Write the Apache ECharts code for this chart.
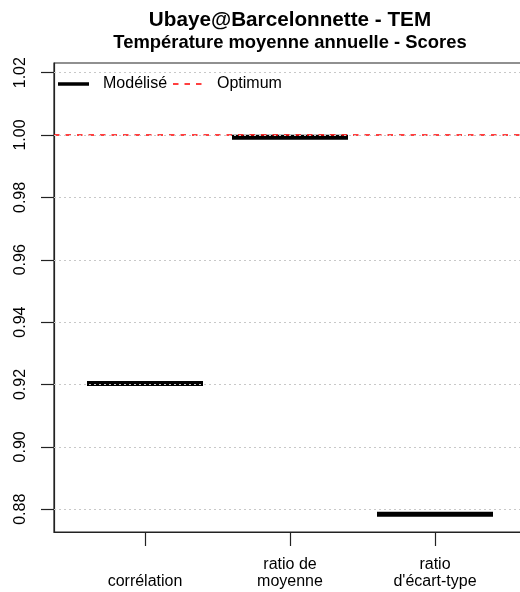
<!DOCTYPE html>
<html>
<head>
<meta charset="utf-8">
<script src="https://cdn.jsdelivr.net/npm/echarts@6/dist/echarts.min.js"></script>
<style>html,body{margin:0;padding:0;background:#fff}#c{width:520px;height:592px}</style>
</head>
<body>
<div id="c"></div>
<script>
var categories = ['corrélation', 'ratio de\nmoyenne', "ratio\nd'écart-type"];
var modelValues = [0.9203, 0.9993, 0.8784];
var optimumValue = 1.0;
var yTicks = [0.88, 0.90, 0.92, 0.94, 0.96, 0.98, 1.00, 1.02];
var xPositions = [1, 2, 3];
var titleText = 'Ubaye@Barcelonnette - TEM';
var subtitleText = 'Température moyenne annuelle - Scores';
var legendNames = ['Modélisé', 'Optimum'];

var FONT = '"Liberation Sans", Arial, sans-serif';
var chart = echarts.init(document.getElementById('c'), null, {renderer: 'canvas'});

var segData = xPositions.map(function (x, i) { return [x, modelValues[i]]; });

var option = {
  animation: false,
  backgroundColor: '#fff',
  grid: {left: 54, top: 63, width: 472, height: 469, outerBoundsMode: 'none', containLabel: false,
    show: true, borderColor: '#222', borderWidth: 1.2, backgroundColor: 'transparent'},
  xAxis: {
    type: 'value', min: 1 - 91 / 145, max: 3 + 91 / 145,
    axisLine: {show: true, lineStyle: {color: '#222', width: 1.2}},
    axisTick: {show: true, length: 14, customValues: xPositions, lineStyle: {color: '#222', width: 1.2}},
    axisLabel: {
      show: true, customValues: xPositions, margin: 24, fontFamily: FONT, fontSize: 16, color: '#000', lineHeight: 17,
      verticalAlign: 'top',
      formatter: function (v) {
        var s = categories[Math.round(v) - 1] || '';
        return s.indexOf('\n') < 0 ? '\n' + s : s;
      }
    },
    splitLine: {show: false}
  },
  yAxis: {
    type: 'value', min: 0.8727, max: 1.0231,
    axisLine: {show: true, lineStyle: {color: '#222', width: 1.2}},
    axisTick: {show: true, length: 13, customValues: yTicks, lineStyle: {color: '#222', width: 1.2}},
    axisLabel: {
      show: true, customValues: yTicks, rotate: 90, margin: 25, fontFamily: FONT, fontSize: 16, color: '#000',
      formatter: function (v) { return v.toFixed(2); }
    },
    splitLine: {show: false}
  },
  series: [
    {
      name: legendNames[0], type: 'custom', z: 2, data: segData,
      renderItem: function (params, api) {
        var x = api.value(0), y = api.value(1);
        var p1 = api.coord([x - 0.4, y]), p2 = api.coord([x + 0.4, y]);
        return {type: 'line', shape: {x1: p1[0], y1: p1[1], x2: p2[0], y2: p2[1]},
          style: {stroke: '#000', lineWidth: 5, lineCap: 'butt'}};
      }
    },
    {
      name: 'grid', type: 'line', z: 3, data: [], silent: true,
      markLine: {
        silent: true, symbol: 'none', label: {show: false}, animation: false,
        lineStyle: {color: '#c8c8c8', type: [2, 3], width: 1},
        data: yTicks.map(function (t) { return {yAxis: t}; })
      }
    },
    {
      name: legendNames[1], type: 'line', z: 4, data: [], silent: true,
      markLine: {
        silent: true, symbol: 'none', label: {show: false}, animation: false, z: 4,
        lineStyle: {color: '#ff0000', type: [5.5, 6], width: 1.7},
        data: [{yAxis: optimumValue}]
      }
    }
  ],
  graphic: [
    {type: 'text', z: 10, style: {x: 290, y: 20, text: titleText, textAlign: 'center', textVerticalAlign: 'middle', font: 'bold 20.7px ' + FONT, fill: '#000'}},
    {type: 'text', z: 10, style: {x: 290, y: 43, text: subtitleText, textAlign: 'center', textVerticalAlign: 'middle', font: 'bold 18.4px ' + FONT, fill: '#000'}},
    {type: 'line', z: 10, shape: {x1: 58, y1: 84, x2: 89, y2: 84}, style: {stroke: '#000', lineWidth: 3.5}},
    {type: 'text', z: 10, style: {x: 103, y: 84, text: legendNames[0], textVerticalAlign: 'middle', font: '16px ' + FONT, fill: '#000'}},
    {type: 'line', z: 10, shape: {x1: 173, y1: 84, x2: 204, y2: 84}, style: {stroke: '#ff0000', lineWidth: 1.7, lineDash: [5.5, 6]}},
    {type: 'text', z: 10, style: {x: 217, y: 84, text: legendNames[1], textVerticalAlign: 'middle', font: '16px ' + FONT, fill: '#000'}}
  ]
};
chart.setOption(option);
</script>
</body>
</html>
